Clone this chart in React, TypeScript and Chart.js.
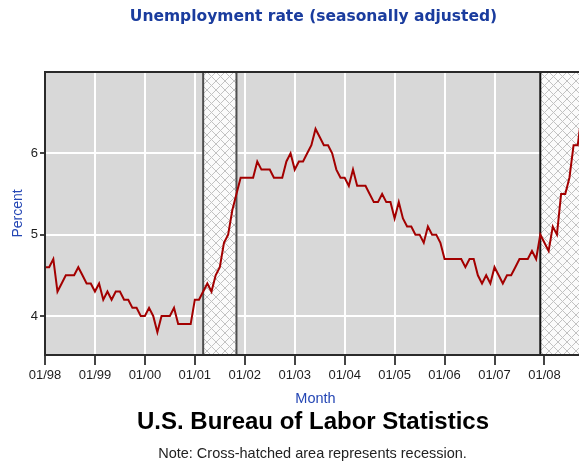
import React, { useEffect, useRef } from "react";
import { Chart, registerables } from "chart.js";

Chart.register(...registerables);

// ---- Data (monthly, seasonally adjusted unemployment rate, %) ----
const rate1998 = [4.6, 4.6, 4.7, 4.3, 4.4, 4.5, 4.5, 4.5, 4.6, 4.5, 4.4, 4.4];
const rate1999 = [4.3, 4.4, 4.2, 4.3, 4.2, 4.3, 4.3, 4.2, 4.2, 4.1, 4.1, 4.0];
const rate2000 = [4.0, 4.1, 4.0, 3.8, 4.0, 4.0, 4.0, 4.1, 3.9, 3.9, 3.9, 3.9];
const rate2001 = [4.2, 4.2, 4.3, 4.4, 4.3, 4.5, 4.6, 4.9, 5.0, 5.3, 5.5, 5.7];
const rate2002 = [5.7, 5.7, 5.7, 5.9, 5.8, 5.8, 5.8, 5.7, 5.7, 5.7, 5.9, 6.0];
const rate2003 = [5.8, 5.9, 5.9, 6.0, 6.1, 6.3, 6.2, 6.1, 6.1, 6.0, 5.8, 5.7];
const rate2004 = [5.7, 5.6, 5.8, 5.6, 5.6, 5.6, 5.5, 5.4, 5.4, 5.5, 5.4, 5.4];
const rate2005 = [5.2, 5.4, 5.2, 5.1, 5.1, 5.0, 5.0, 4.9, 5.1, 5.0, 5.0, 4.9];
const rate2006 = [4.7, 4.7, 4.7, 4.7, 4.7, 4.6, 4.7, 4.7, 4.5, 4.4, 4.5, 4.4];
const rate2007 = [4.6, 4.5, 4.4, 4.5, 4.5, 4.6, 4.7, 4.7, 4.7, 4.8, 4.7, 5.0];
const rate2008 = [4.9, 4.8, 5.1, 5.0, 5.5, 5.5, 5.7, 6.1, 6.1, 6.5];

const unemploymentRate = [
  ...rate1998, ...rate1999, ...rate2000, ...rate2001, ...rate2002, ...rate2003,
  ...rate2004, ...rate2005, ...rate2006, ...rate2007, ...rate2008,
];

// x tick labels, one per January (month index 0 = Jan 1998)
const xTickLabels = ["01/98", "01/99", "01/00", "01/01", "01/02", "01/03", "01/04", "01/05", "01/06", "01/07", "01/08"];
const yTickValues = [4, 5, 6];

// recessions as month indices (Mar 2001 – Nov 2001, Dec 2007 – ongoing)
const recessionStart = [38, 119];
const recessionEnd = [46, null];

const X_MAX = 128.3;
const Y_MIN = 3.52;
const Y_MAX = 7.0;

const TITLE = "Unemployment rate (seasonally adjusted)";
const X_TITLE = "Month";
const Y_TITLE = "Percent";
const SOURCE = "U.S. Bureau of Labor Statistics";
const NOTE = "Note: Cross-hatched area represents recession.";

function makeHatch(ctx: CanvasRenderingContext2D) {
  const c = document.createElement("canvas");
  const s = 9;
  c.width = s;
  c.height = s;
  const p = c.getContext("2d")!;
  p.fillStyle = "#fbfbfb";
  p.fillRect(0, 0, s, s);
  p.strokeStyle = "#c2c2c2";
  p.lineWidth = 1;
  p.beginPath();
  p.moveTo(0, 0);
  p.lineTo(s, s);
  p.moveTo(s, 0);
  p.lineTo(0, s);
  p.stroke();
  return ctx.createPattern(c, "repeat");
}

const decorPlugin = {
  id: "decor",
  beforeDraw(chart: any) {
    const { ctx, chartArea: a } = chart;
    ctx.save();
    ctx.fillStyle = "#ffffff";
    ctx.fillRect(0, 0, chart.width, chart.height);
    ctx.fillStyle = "#d8d8d8";
    ctx.fillRect(a.left, a.top, a.right - a.left, a.bottom - a.top);
    ctx.restore();
  },
  beforeDatasetsDraw(chart: any) {
    const { ctx, chartArea: a, scales } = chart;
    const xs = scales.x;
    ctx.save();
    ctx.beginPath();
    ctx.rect(a.left, a.top, a.right - a.left, a.bottom - a.top);
    ctx.clip();
    const pat = makeHatch(ctx);
    recessionStart.forEach((st, i) => {
      const en = recessionEnd[i];
      const x0 = xs.getPixelForValue(st);
      const x1 = en === null ? a.right + 2 : xs.getPixelForValue(en);
      ctx.fillStyle = pat;
      ctx.fillRect(x0, a.top, x1 - x0, a.bottom - a.top);
      ctx.lineWidth = 2;
      ctx.strokeStyle = en === null ? "#111111" : "#4e4e4e";
      ctx.beginPath();
      ctx.moveTo(x0, a.top);
      ctx.lineTo(x0, a.bottom);
      if (en !== null) {
        ctx.moveTo(x1, a.top);
        ctx.lineTo(x1, a.bottom);
      }
      ctx.stroke();
    });
    ctx.restore();
  },
  afterDatasetsDraw(chart: any) {
    const { ctx, chartArea: a } = chart;
    ctx.save();
    ctx.strokeStyle = "#2a2a2a";
    ctx.lineWidth = 2;
    ctx.beginPath();
    ctx.moveTo(a.right + 2, a.top);
    ctx.lineTo(a.left, a.top);
    ctx.lineTo(a.left, a.bottom);
    ctx.lineTo(a.right + 2, a.bottom);
    ctx.stroke();
    ctx.restore();
  },
  afterDraw(chart: any) {
    const { ctx } = chart;
    ctx.save();
    ctx.textAlign = "center";
    ctx.textBaseline = "alphabetic";
    ctx.fillStyle = "#1a3c9e";
    ctx.font = "bold 15.5px 'DejaVu Sans', Verdana, sans-serif";
    ctx.fillText(TITLE, 313.5, 21);
    ctx.fillStyle = "#2446b4";
    ctx.font = "14.5px 'Liberation Sans', Arial, sans-serif";
    ctx.fillText(X_TITLE, 315.5, 403);
    ctx.fillStyle = "#000000";
    ctx.font = "bold 24px 'Liberation Sans', Arial, sans-serif";
    ctx.fillText(SOURCE, 313, 428.5);
    ctx.fillStyle = "#222222";
    ctx.font = "14.5px 'Liberation Sans', Arial, sans-serif";
    ctx.fillText(NOTE, 312.5, 458);
    ctx.restore();
  },
};

export default function App() {
  const ref = useRef<HTMLCanvasElement | null>(null);

  useEffect(() => {
    const canvas = ref.current;
    if (!canvas) return;
    const chart = new Chart(canvas, {
      type: "line",
      data: {
        datasets: [
          {
            label: "Unemployment rate",
            data: unemploymentRate.map((v, i) => ({ x: i, y: v })),
            borderColor: "#a30000",
            borderWidth: 2,
            pointRadius: 0,
            tension: 0,
            fill: false,
            clip: 0,
          },
        ],
      },
      options: {
        responsive: false,
        animation: false,
        devicePixelRatio: 1,
        layout: { padding: { top: 72, left: 0, right: 0, bottom: 0 } },
        plugins: {
          legend: { display: false },
          title: { display: false },
          tooltip: { enabled: false },
        },
        scales: {
          x: {
            type: "linear",
            min: 0,
            max: X_MAX,
            afterBuildTicks: (s: any) => {
              s.ticks = xTickLabels.map((_, i) => ({ value: i * 12 }));
            },
            afterFit: (s: any) => {
              s.height = 107;
            },
            ticks: {
              autoSkip: false,
              maxRotation: 0,
              minRotation: 0,
              padding: 3,
              color: "#1e1e1e",
              font: { family: "'Liberation Sans', Arial, sans-serif", size: 13 },
              callback: (_v: any, i: number) => xTickLabels[i],
            },
            grid: {
              color: "#ffffff",
              lineWidth: 2,
              tickLength: 10,
              tickColor: "#444444",
              tickWidth: 2,
            },
            border: { display: false },
          },
          y: {
            type: "linear",
            min: Y_MIN,
            max: Y_MAX,
            afterBuildTicks: (s: any) => {
              s.ticks = yTickValues.map((v) => ({ value: v }));
            },
            afterFit: (s: any) => {
              s.width = 45;
            },
            ticks: {
              padding: 2,
              color: "#1e1e1e",
              font: { family: "'Liberation Sans', Arial, sans-serif", size: 13 },
            },
            grid: {
              color: "#ffffff",
              lineWidth: 2,
              tickLength: 5,
              tickColor: "#444444",
              tickWidth: 2,
            },
            border: { display: false },
            title: {
              display: true,
              text: Y_TITLE,
              color: "#2446b4",
              padding: { top: 10, bottom: 0 },
              font: { family: "'Liberation Sans', Arial, sans-serif", size: 14 },
            },
          },
        },
      },
      plugins: [decorPlugin],
    } as any);
    return () => chart.destroy();
  }, []);

  return (
    <div style={{ position: "fixed", left: 0, top: 0, width: 579, height: 462, background: "#fff", overflow: "hidden" }}>
      <canvas ref={ref} width={579} height={462} style={{ display: "block", width: 579, height: 462 }} />
    </div>
  );
}
